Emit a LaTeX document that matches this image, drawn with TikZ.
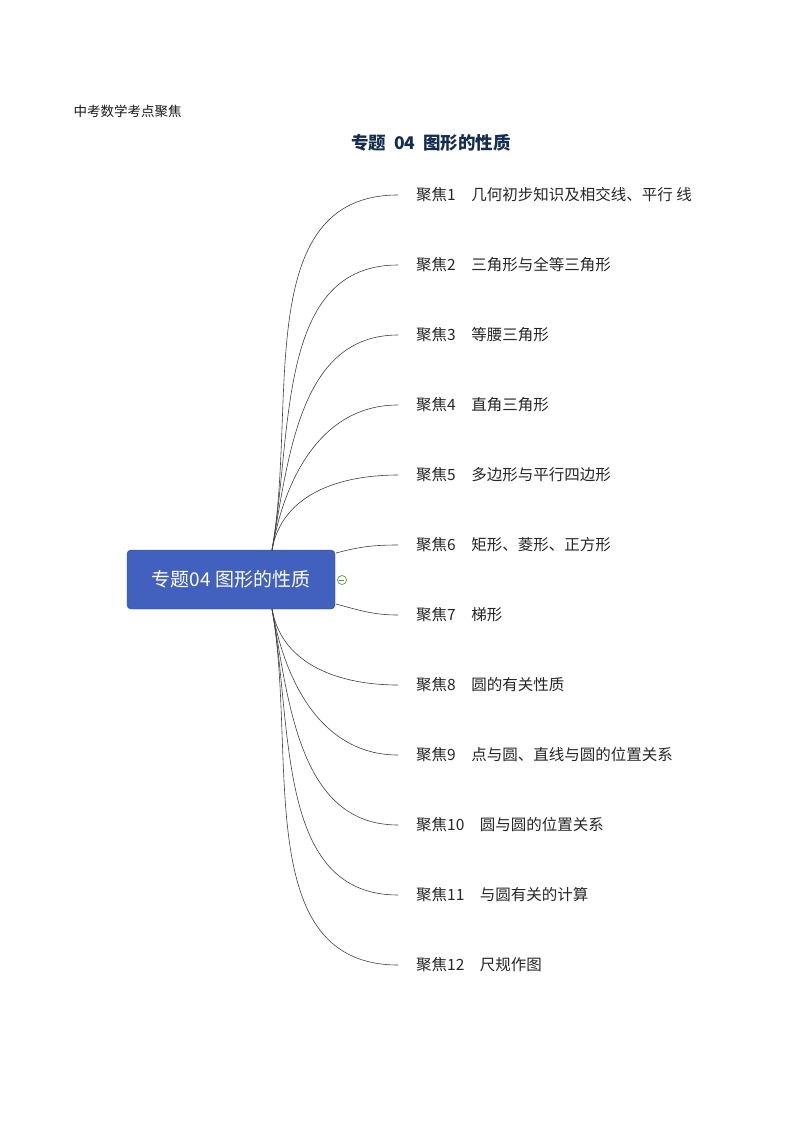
\documentclass[tikz,border=0pt]{standalone}
\usepackage{fontspec}
\setmainfont{Noto Sans CJK SC}
\definecolor{mgreen}{RGB}{90,150,60}
\definecolor{boxfill}{RGB}{66,96,190}
\definecolor{boxdraw}{RGB}{40,70,160}
\definecolor{titlec}{RGB}{20,45,80}
\begin{document}
\begin{tikzpicture}[x=1pt,y=-1pt,
  leaf/.style={anchor=west,inner xsep=18pt,inner ysep=2pt,font=\fontsize{15.5}{18}\selectfont,text=black!85},
  br/.style={draw=black!75,line width=0.6pt}]
\useasboundingbox (0,0) rectangle (793,1123);
\node[anchor=west,font=\fontsize{13.5}{16}\selectfont,text=black!90] (hdr) at (70,111) {中考数学考点聚焦};
\node[font=\fontsize{17.5}{20}\selectfont\bfseries,text=titlec] (title) at (431,143) {专题\ \ \textit{04}\ \ 图形的性质};
\node[draw=boxdraw,fill=boxfill,rounded corners=4pt,minimum width=208pt,minimum height=59pt,text=white,font=\fontsize{19}{22}\selectfont] (c) at (231,579.5) {专题04 图形的性质};
\node[draw=mgreen,circle,inner sep=0pt,minimum size=9pt,line width=0.7pt] (m) at (342,580) {};
\draw[mgreen,line width=0.8pt] (m.west) ++(2,0) -- ++(5,0);
\foreach \i/\t in {1/{聚焦1\quad 几何初步知识及相交线、平行 线},2/{聚焦2\quad 三角形与全等三角形},3/{聚焦3\quad 等腰三角形},4/{聚焦4\quad 直角三角形},5/{聚焦5\quad 多边形与平行四边形},6/{聚焦6\quad 矩形、菱形、正方形},7/{聚焦7\quad 梯形},8/{聚焦8\quad 圆的有关性质},9/{聚焦9\quad 点与圆、直线与圆的位置关系},10/{聚焦10\quad 圆与圆的位置关系},11/{聚焦11\quad 与圆有关的计算},12/{聚焦12\quad 尺规作图}}
  {\node[leaf] (l\i) at (398,{195+70*(\i-1)}) {\t};}
\coordinate (ut) at (272,550);
\coordinate (lb) at (272,609);
\foreach \i in {1,...,5} {\draw[br] (ut) to[out=80,in=180] (l\i.west);}
\draw[br] (336,553) to[out=15,in=180] (l6.west);
\draw[br] (336,604) to[out=-15,in=180] (l7.west);
\foreach \i in {8,...,12} {\draw[br] (lb) to[out=-80,in=180] (l\i.west);}
\end{tikzpicture}
\end{document}
